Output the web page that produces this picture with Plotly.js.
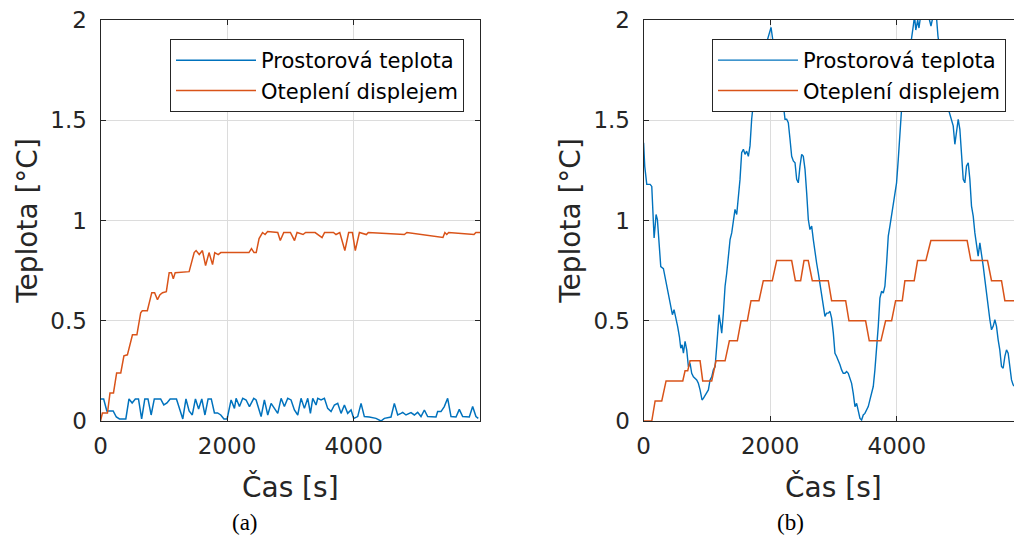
<!DOCTYPE html>
<html>
<head>
<meta charset="utf-8">
<script src="https://cdn.plot.ly/plotly-3.0.1.min.js"></script>
<style>
html,body{margin:0;padding:0;overflow:hidden;background:#fff;}
#chart{width:1024px;height:540px;}
</style>
</head>
<body>
<div id="chart"></div>
<script>
// ---------- data ----------
const seriesNames = ['Prostorová teplota', 'Oteplení displejem'];
const xTickVals = [0, 2000, 4000];
const yTickVals = [0, 0.5, 1, 1.5, 2];
const yTickText = ['0', '0.5', '1', '1.5', '2'];

// (a) room temperature
const aRoomT = [0,50,100,150,200,250,300,350,400,450,500,550,600,650,700,750,800,850,900,950,1000,1050,1100,1150,1200,1250,1300,1350,1400,1450,1500,1550,1600,1650,1700,1750,1800,1850,1900,1950,2000,
  2063,2116,2142,2195,2247,2300,2353,2421,2458,2484,2537,2589,2642,2695,2747,2800,2853,2905,2958,3010,3063,3116,3168,3221,3274,3316,3353,3405,3432,3484,3537,3589,3642,3695,3747,3800,3853,3905,3958,
  4000,4063,4116,4168,4247,4352,4431,4484,4589,4642,4695,4747,4774,4826,4905,4958,5010,5063,5116,5168,5300,5326,5379,5431,5484,5537,5616,5668,5721,5826,5879,5931,5968];
const aRoomV = [0.11,0.11,0.05,0.05,0.05,0.02,0.01,0.01,0.01,0.11,0.09,0.11,0.11,0.01,0.11,0.11,0.03,0.11,0.11,0.11,0.08,0.09,0.11,0.11,0.11,0.06,0.01,0.11,0.05,0.03,0.11,0.06,0.11,0.03,0.11,0.11,0.04,0.04,0.03,0.01,0.01,
  0.105,0.063,0.113,0.072,0.113,0.105,0.072,0.113,0.105,0.08,0.022,0.105,0.03,0.088,0.063,0.038,0.113,0.072,0.113,0.105,0.055,0.03,0.113,0.063,0.113,0.038,0.113,0.08,0.113,0.105,0.113,0.063,0.047,0.08,0.088,0.038,0.08,0.038,0.055,
  0.013,0.022,0.088,0.022,0.02,0.013,0.0,0.013,0.02,0.088,0.03,0.038,0.043,0.03,0.042,0.03,0.043,0.022,0.055,0.022,0.02,0.047,0.047,0.072,0.113,0.022,0.02,0.058,0.022,0.02,0.072,0.022,0.013];

// (a) display heating
const aDispT = [0,30,110,150,205,255,320,370,425,505,575,635,660,740,810,855,900,940,980,1040,1085,1120,1150,1180,1400,1480,1510,1560,1610,1660,1715,1770,1805,1860,1900,1940,2345,2385,2425,2460,2505,2560,2600,2640,2800,2840,2895,3000,3030,3065,3105,3200,3240,3390,3500,3540,3680,3720,3780,3860,3920,3980,4025,4090,4200,4230,4800,4840,5410,5440,5470,5500,5900,5930,5995];
const aDispV = [0,0.04,0.04,0.14,0.14,0.24,0.24,0.325,0.33,0.43,0.43,0.54,0.55,0.55,0.64,0.64,0.605,0.63,0.64,0.645,0.74,0.74,0.71,0.74,0.745,0.84,0.85,0.83,0.85,0.775,0.84,0.78,0.84,0.83,0.84,0.84,0.84,0.86,0.84,0.84,0.91,0.94,0.93,0.945,0.94,0.90,0.94,0.94,0.92,0.90,0.94,0.93,0.94,0.94,0.915,0.94,0.94,0.93,0.94,0.85,0.94,0.94,0.85,0.94,0.93,0.94,0.93,0.94,0.915,0.94,0.93,0.94,0.93,0.94,0.94];

// (b) room temperature
const bRoomT = [0,18,50,103,129,145,155,166,182,197,218,245,271,313,339,366,403,429,455,481,513,539,566,587,608,629,655,681,708,734,760,787,839,865,892,923,944,976,997,1023,1050,1076,1102,1129,1155,1171,1192,1213,1234,1260,1287,1313,1339,1366,1392,1418,1444,1471,1497,1523,1549,1576,1602,1628,1655,1681,1707,1734,1760,1786,1813,1839,1865,1892,1944,1986,2013,2039,2076,2120,2170,
  2207,2234,2260,2286,2313,2339,2365,2392,2418,2444,2470,2497,2523,2550,2576,2602,2628,2655,2681,2707,2733,2760,2786,2812,2839,2865,2891,2918,2944,2970,2997,3023,3049,3075,3102,3128,3154,3181,3207,3233,3260,3286,3312,3339,3365,3391,3418,3444,3470,3496,3523,3549,3575,3602,3628,3654,3681,3707,3733,3760,3786,3812,3839,3865,3891,3917,3944,3970,3996,4023,4049,4075,4102,4128,4155,4181,
  4220,4260,4280,4300,4330,4350,4380,4440,4500,4540,4580,4620,4650,4700,4750,4786,4838,4891,4917,4943,4970,4996,5022,5049,5075,5101,5128,5154,5180,5207,5233,5259,5285,5312,5338,5365,5391,5417,5444,5470,5496,5522,5549,5575,5601,5627,5654,5680,5707,5733,5759,5785,5812,5838,5870];
const bRoomV = [1.388,1.27,1.18,1.18,1.17,1.07,0.97,0.913,0.97,1.03,1.005,0.905,0.77,0.76,0.72,0.67,0.62,0.57,0.53,0.555,0.513,0.47,0.42,0.363,0.38,0.338,0.397,0.355,0.27,0.288,0.238,0.22,0.205,0.188,0.155,0.105,0.113,0.13,0.138,0.155,0.205,0.22,0.255,0.27,0.372,0.455,0.53,0.488,0.438,0.538,0.672,0.738,0.838,0.905,0.938,1.005,1.055,1.03,1.105,1.205,1.338,1.355,1.33,1.346,1.32,1.372,1.505,1.588,1.58,1.62,1.705,1.738,1.78,1.82,1.888,1.938,1.963,1.905,1.855,1.78,1.68,
  1.588,1.505,1.505,1.488,1.405,1.32,1.297,1.288,1.205,1.188,1.27,1.33,1.32,1.255,1.138,1.005,0.955,0.972,0.905,0.838,0.788,0.738,0.688,0.638,0.572,0.522,0.538,0.538,0.547,0.513,0.438,0.338,0.322,0.305,0.28,0.255,0.238,0.238,0.247,0.238,0.213,0.188,0.138,0.072,0.088,0.047,0.013,0.005,0.03,0.038,0.055,0.072,0.105,0.147,0.172,0.255,0.355,0.472,0.613,0.647,0.638,0.672,0.788,0.922,0.972,1.03,1.088,1.155,1.188,1.305,1.438,1.555,1.622,1.572,1.672,1.772,
  1.88,1.97,2.02,1.95,2.0,1.96,2.03,2.05,2.02,1.97,2.03,2.04,1.92,1.8,1.68,1.588,1.53,1.472,1.38,1.455,1.505,1.455,1.338,1.205,1.188,1.272,1.288,1.205,1.072,1.022,0.938,0.872,0.822,0.888,0.84,0.772,0.705,0.638,0.555,0.505,0.455,0.472,0.505,0.472,0.405,0.355,0.272,0.263,0.322,0.355,0.338,0.255,0.205,0.18,0.17];

// (b) display heating
const bDispT = [0,129,182,287,355,619,655,697,734,892,934,1076,1144,1287,1355,1481,1539,1639,1697,1823,1891,2033,2102,2339,2397,2481,2534,2601,2665,2917,2970,3192,3244,3507,3565,3749,3823,3918,3981,4086,4128,4275,4328,4459,4538,5111,5170,5433,5496,5654,5707,5995];
const bDispV = [0,0,0.1,0.1,0.2,0.2,0.25,0.25,0.3,0.3,0.2,0.2,0.3,0.3,0.4,0.4,0.5,0.5,0.6,0.6,0.7,0.7,0.8,0.8,0.7,0.7,0.8,0.8,0.7,0.7,0.6,0.6,0.5,0.5,0.4,0.4,0.5,0.5,0.6,0.6,0.7,0.7,0.8,0.8,0.9,0.9,0.8,0.8,0.7,0.7,0.6,0.6];

const captions = ['(a)', '(b)'];

// ---------- styling ----------
const BLUE = '#0072BD', ORANGE = '#D95319', INK = '#262626', GRID = '#dcdcdc';
const W = 1024, H = 540;

const traces = [
  {x: aRoomT, y: aRoomV, name: seriesNames[0], xaxis: 'x', yaxis: 'y', legend: 'legend', mode: 'lines', line: {color: BLUE, width: 1.5}},
  {x: aDispT, y: aDispV, name: seriesNames[1], xaxis: 'x', yaxis: 'y', legend: 'legend', mode: 'lines', line: {color: ORANGE, width: 1.5}},
  {x: bRoomT, y: bRoomV, name: seriesNames[0], xaxis: 'x2', yaxis: 'y2', legend: 'legend2', mode: 'lines', line: {color: BLUE, width: 1.4}},
  {x: bDispT, y: bDispV, name: seriesNames[1], xaxis: 'x2', yaxis: 'y2', legend: 'legend2', mode: 'lines', line: {color: ORANGE, width: 1.5}}
];

function xAx(dom, anchor) {
  return {
    domain: dom, anchor: anchor, range: [0, 5995], tickvals: xTickVals,
    ticks: 'inside', ticklen: 5, tickcolor: INK, tickwidth: 1,
    showline: true, linecolor: INK, linewidth: 1, mirror: 'ticks',
    showgrid: true, gridcolor: GRID, gridwidth: 1, zeroline: false,
    tickfont: {size: 23, color: INK}, ticklabelstandoff: 4,
    title: {text: 'Čas [s]', font: {size: 28, color: INK}, standoff: 19},
    automargin: false, fixedrange: true
  };
}
function yAx(anchor) {
  return {
    domain: [(H - 421) / H, (H - 20) / H], anchor: anchor, range: [0, 2],
    tickvals: yTickVals, ticktext: yTickText,
    ticks: 'inside', ticklen: 5, tickcolor: INK, tickwidth: 1,
    showline: true, linecolor: INK, linewidth: 1, mirror: 'ticks',
    showgrid: true, gridcolor: GRID, gridwidth: 1, zeroline: false,
    tickfont: {size: 23, color: INK}, ticklabelstandoff: 8,
    title: {text: 'Teplota [°C]', font: {size: 28, color: INK}, standoff: 4},
    automargin: false, fixedrange: true
  };
}
function leg(xRight) {
  return {
    x: xRight / W, xanchor: 'right', y: (H - 39) / H, yanchor: 'top',
    bgcolor: '#ffffff', bordercolor: INK, borderwidth: 1,
    font: {size: 21, color: '#000000'}, tracegroupgap: 0, itemwidth: 80
  };
}

const layout = {
  width: W, height: H,
  margin: {l: 0, r: 0, t: 0, b: 0},
  paper_bgcolor: '#ffffff', plot_bgcolor: '#ffffff',
  font: {family: 'DejaVu Sans, sans-serif', color: INK},
  showlegend: true,
  xaxis: xAx([100.5 / W, 480 / W], 'y'),
  yaxis: yAx('x'),
  xaxis2: xAx([643.6 / W, 1023.1 / W], 'y2'),
  yaxis2: yAx('x2'),
  legend: leg(464),
  legend2: leg(1006),
  annotations: [
    {text: captions[0], xref: 'paper', yref: 'paper', x: 245 / W, y: (H - 522) / H, showarrow: false,
     font: {family: 'Liberation Serif, serif', size: 23, color: '#000'}, xanchor: 'center', yanchor: 'middle'},
    {text: captions[1], xref: 'paper', yref: 'paper', x: 790 / W, y: (H - 522) / H, showarrow: false,
     font: {family: 'Liberation Serif, serif', size: 23, color: '#000'}, xanchor: 'center', yanchor: 'middle'}
  ]
};

Plotly.newPlot('chart', traces, layout, {staticPlot: true, displayModeBar: false});
</script>
</body>
</html>
